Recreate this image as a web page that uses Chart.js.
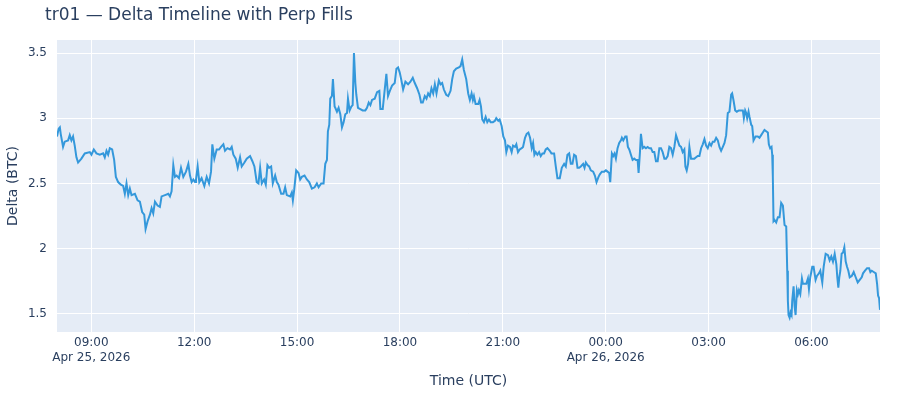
<!DOCTYPE html>
<html>
<head>
<meta charset="utf-8">
<script src="https://cdn.jsdelivr.net/npm/chart.js@4.4.1/dist/chart.umd.min.js"></script>
<style>
  body { margin: 0; background: #fff; }
  #wrap { position: relative; width: 900px; height: 400px; }
  #title {
    position: absolute; left: 45px; top: 3px;
    font: 17px "DejaVu Sans", Verdana, sans-serif; line-height: 22px; color: #2a3f5f;
  }
</style>
</head>
<body>
<div id="wrap">
  <canvas id="deltaChart" width="900" height="400"></canvas>
  <div id="title">tr01 — Delta Timeline with Perp Fills</div>
</div>
<script>
// minutes after 2026-04-25 08:00 UTC
const START = Date.UTC(2026, 3, 25, 8, 0);
const minutes = [
  0, 3, 5, 6.5, 10.6, 13.5, 19.4, 22.3, 25.2, 28.1, 31, 34, 36.9, 42.7, 48.6, 57.4, 60.3, 64.4, 69, 74.9,
  80.7, 83.6, 86.6, 89.5, 92.4, 96.5, 100, 103, 107, 111.7, 115.8, 118.7, 121.6, 124.6, 127.5, 130.4, 136.3, 141, 145, 149,
  152.6, 155, 158.5, 162.6, 165.5, 168.4, 171.4, 176, 180, 183, 189, 194.7, 197.6, 200.5, 203.5, 206.4, 209.3, 213.4, 217, 221,
  225.7, 229.8, 232.7, 235.6, 238.6, 241.5, 243.2, 246.1, 249, 253, 257.8, 261.9, 266, 269.5, 271.8, 275.3, 279.4, 283.5, 287, 291.1,
  294, 298.1, 302.8, 305.7, 308.6, 312.7, 316.2, 320.3, 323.2, 327.9, 332, 337.8, 341.9, 345.4, 349.5, 352.5, 355.4, 358.3, 362.4, 365.3,
  368.2, 371.2, 374.7, 377.6, 381.7, 384.6, 387.5, 392.2, 396.3, 399.2, 402.1, 408, 410.9, 412.7, 415, 418.5, 422.6, 425.5, 428.4, 433.1,
  437.2, 441.3, 446, 450.7, 454.7, 457.7, 462.3, 466.4, 469.4, 472.3, 474, 476.4, 478.1, 481, 482.8, 485.7, 486.9, 489.8, 492.7, 495.7,
  498.6, 501.5, 504.4, 507.4, 509.1, 512, 515, 517.3, 519.6, 522, 523.7, 526.6, 530.7, 534.8, 539.5, 542.4, 545.4, 548.3, 551.2, 555.9,
  560, 564, 565.8, 569.9, 573.4, 576.3, 579.2, 583.3, 586.3, 590.9, 593.9, 596.8, 599.7, 602.6, 605.6, 609.6, 614.3, 618.4, 622.5, 626,
  630.1, 634.2, 637.1, 640, 643.5, 646.5, 649.4, 652.3, 655.2, 658.2, 661.1, 664, 668.1, 671, 673.9, 676.9, 681, 684.5, 688.6, 691.5,
  694.4, 698.5, 703.2, 706.1, 709, 711.9, 716, 719.5, 722.4, 725.4, 727.7, 729.5, 732.4, 737.1, 739.4, 741.8, 744.1, 747, 750, 752.9,
  755.8, 758.7, 762.8, 766.3, 768.6, 772.1, 774.5, 778, 780.9, 783.8, 786.2, 789.1, 792.6, 795.5, 797.9, 801.4, 803.7, 806.6, 809.6, 813.1,
  815.4, 818.9, 821.8, 824.8, 827.7, 830.6, 833, 835.3, 837.6, 840.5, 843.5, 846.4, 849.3, 852.2, 855.1, 858.1, 862.2, 865.1, 869.8, 872.7,
  875.6, 879.7, 883.2, 887.3, 890.2, 893.1, 896.1, 899, 901.9, 904.8, 907.9, 910.7, 913.6, 916.5, 920.6, 923, 925.3, 928.2, 931.1, 934,
  938.1, 941.1, 944, 947.5, 949.8, 953.3, 957.4, 960.4, 963.3, 966.2, 968, 970.9, 973.2, 975.6, 977.9, 980.8, 983.7, 986.7, 988.4, 990.8,
  994.3, 996.6, 998.9, 1001.3, 1004.2, 1007.1, 1010, 1013, 1015.9, 1017.6, 1020, 1021.7, 1024.7, 1027.6, 1030.5, 1033.4, 1036.4, 1039.3, 1042.2, 1045.1,
  1048, 1051, 1053.9, 1056.8, 1059.7, 1062.7, 1065.6, 1068.5, 1071.4, 1074.3, 1077.3, 1080.2, 1083.1, 1086, 1089, 1091.9, 1094.8, 1097.7, 1099.5, 1101.8,
  1104.2, 1106.5, 1109.4, 1112.3, 1115.3, 1118.2, 1121.1, 1124, 1127, 1129.9, 1132.8, 1135.7, 1138.6, 1141.6, 1144.5, 1147.4, 1150.3, 1153.3, 1156.2, 1159.1,
  1162, 1165, 1167.9, 1170.8, 1173.7, 1176.6, 1179.6, 1181.3, 1183.6, 1186.6, 1189.5, 1193, 1197.1, 1200, 1201.8, 1204.1, 1205.9, 1207.6, 1210, 1211.7,
  1214.6, 1216.4, 1218.7, 1222.2, 1226.2, 1229.1, 1232.1, 1235, 1237.9, 1240.8, 1243.8, 1245.5, 1247.8, 1250.2, 1251.4, 1252.5, 1253.7, 1255.5, 1258.4, 1261.3,
  1264.2, 1267.1, 1270.1, 1273, 1275.9, 1277.7, 1278.8, 1280, 1281.8, 1283.5, 1285.3, 1286.4, 1288.8, 1290.5, 1292.3, 1294.6, 1296.4, 1298.1, 1300.5, 1303.4,
  1305.1, 1308.1, 1311, 1313.9, 1315.7, 1318, 1321.5, 1323.8, 1327.3, 1329.7, 1333.2, 1335.5, 1339, 1341.4, 1344.9, 1349, 1351.9, 1354.8, 1357.7, 1360.7,
  1363.6, 1365.3, 1367.1, 1368.8, 1370.6, 1372.9, 1375.3, 1377.6, 1380, 1382.3, 1384.6, 1387, 1390.5, 1394, 1397.5, 1401, 1404.5, 1408, 1410.3, 1413.8,
  1417.4, 1420.9, 1423.2, 1425.5, 1429, 1432.6, 1434.9, 1436.6, 1438.4, 1440
];
const deltaBtc = [
  2.86, 2.92, 2.93, 2.88, 2.78, 2.82, 2.83, 2.87, 2.83, 2.86, 2.79, 2.70, 2.66, 2.69, 2.73, 2.74, 2.72, 2.76, 2.73, 2.72,
  2.73, 2.70, 2.75, 2.72, 2.77, 2.76, 2.68, 2.55, 2.51, 2.49, 2.48, 2.42, 2.50, 2.41, 2.46, 2.41, 2.42, 2.37, 2.36, 2.28,
  2.26, 2.15, 2.21, 2.26, 2.31, 2.27, 2.36, 2.33, 2.32, 2.40, 2.41, 2.42, 2.40, 2.44, 2.64, 2.55, 2.56, 2.54, 2.62, 2.55,
  2.59, 2.65, 2.56, 2.51, 2.53, 2.51, 2.53, 2.63, 2.51, 2.54, 2.48, 2.55, 2.50, 2.59, 2.80, 2.69, 2.76, 2.76, 2.78, 2.80,
  2.75, 2.77, 2.76, 2.78, 2.72, 2.69, 2.62, 2.70, 2.63, 2.66, 2.69, 2.71, 2.67, 2.63, 2.51, 2.50, 2.62, 2.50, 2.53, 2.49,
  2.64, 2.62, 2.63, 2.50, 2.56, 2.51, 2.49, 2.42, 2.42, 2.47, 2.41, 2.40, 2.43, 2.37, 2.45, 2.60, 2.58, 2.53, 2.55, 2.56,
  2.53, 2.51, 2.46, 2.47, 2.50, 2.47, 2.50, 2.50, 2.65, 2.68, 2.90, 2.95, 3.15, 3.17, 3.30, 3.09, 3.08, 3.05, 3.08, 3.03,
  2.93, 2.97, 3.03, 3.04, 3.15, 3.06, 3.09, 3.10, 3.50, 3.27, 3.18, 3.08, 3.07, 3.06, 3.06, 3.08, 3.12, 3.10, 3.14, 3.15,
  3.20, 3.21, 3.07, 3.07, 3.22, 3.34, 3.17, 3.22, 3.25, 3.27, 3.38, 3.39, 3.35, 3.29, 3.22, 3.28, 3.26, 3.28, 3.31, 3.27,
  3.23, 3.18, 3.12, 3.12, 3.17, 3.15, 3.19, 3.17, 3.23, 3.19, 3.26, 3.19, 3.29, 3.26, 3.27, 3.22, 3.18, 3.17, 3.21, 3.30,
  3.36, 3.38, 3.39, 3.40, 3.45, 3.37, 3.30, 3.19, 3.14, 3.19, 3.14, 3.17, 3.11, 3.11, 3.14, 3.09, 2.99, 2.97, 3.01, 2.97,
  2.99, 2.97, 2.97, 2.98, 3.00, 2.98, 2.99, 2.94, 2.86, 2.83, 2.74, 2.79, 2.78, 2.74, 2.79, 2.78, 2.80, 2.74, 2.76, 2.77,
  2.78, 2.85, 2.88, 2.89, 2.85, 2.77, 2.81, 2.72, 2.74, 2.72, 2.74, 2.71, 2.73, 2.73, 2.76, 2.77, 2.75, 2.73, 2.73, 2.63,
  2.54, 2.54, 2.62, 2.65, 2.63, 2.72, 2.73, 2.65, 2.65, 2.72, 2.71, 2.62, 2.62, 2.63, 2.65, 2.62, 2.66, 2.64, 2.63, 2.60,
  2.59, 2.56, 2.51, 2.55, 2.57, 2.59, 2.59, 2.60, 2.59, 2.58, 2.51, 2.73, 2.71, 2.73, 2.69, 2.77, 2.81, 2.83, 2.85, 2.83,
  2.86, 2.86, 2.78, 2.76, 2.72, 2.68, 2.69, 2.68, 2.68, 2.58, 2.74, 2.88, 2.77, 2.78, 2.77, 2.78, 2.77, 2.77, 2.74, 2.74,
  2.67, 2.67, 2.77, 2.77, 2.74, 2.69, 2.69, 2.71, 2.78, 2.77, 2.72, 2.78, 2.87, 2.83, 2.79, 2.78, 2.74, 2.76, 2.63, 2.60,
  2.65, 2.78, 2.69, 2.69, 2.69, 2.70, 2.71, 2.71, 2.77, 2.80, 2.84, 2.79, 2.77, 2.81, 2.79, 2.82, 2.82, 2.85, 2.83, 2.78,
  2.75, 2.78, 2.81, 2.87, 3.04, 3.05, 3.18, 3.19, 3.14, 3.06, 3.05, 3.06, 3.06, 3.06, 3.00, 3.06, 3.04, 3.00, 3.05, 3.01,
  2.95, 2.94, 2.83, 2.86, 2.86, 2.85, 2.87, 2.89, 2.91, 2.90, 2.89, 2.80, 2.77, 2.78, 2.72, 2.55, 2.21, 2.22, 2.20, 2.24,
  2.24, 2.35, 2.33, 2.18, 2.17, 1.83, 1.60, 1.49, 1.47, 1.51, 1.49, 1.60, 1.71, 1.56, 1.49, 1.68, 1.65, 1.68, 1.65, 1.77,
  1.73, 1.73, 1.73, 1.77, 1.69, 1.78, 1.86, 1.86, 1.76, 1.79, 1.81, 1.83, 1.74, 1.86, 1.96, 1.95, 1.91, 1.94, 1.90, 1.96,
  1.88, 1.78, 1.70, 1.78, 1.83, 1.96, 1.97, 2.01, 1.90, 1.86, 1.83, 1.78, 1.79, 1.82, 1.78, 1.74, 1.76, 1.78, 1.81, 1.83,
  1.85, 1.85, 1.82, 1.83, 1.82, 1.81, 1.73, 1.64, 1.62, 1.53
];
const xTicks = [60, 240, 420, 600, 780, 960, 1140, 1320];
const yTicks = [1.5, 2, 2.5, 3, 3.5];

const MONTHS = ['Jan', 'Feb', 'Mar', 'Apr', 'May', 'Jun', 'Jul', 'Aug', 'Sep', 'Oct', 'Nov', 'Dec'];
function tickLabel(m, index) {
  const d = new Date(START + m * 60000);
  const hhmm = String(d.getUTCHours()).padStart(2, '0') + ':' + String(d.getUTCMinutes()).padStart(2, '0');
  if (index === 0 || hhmm === '00:00') {
    return [hhmm, MONTHS[d.getUTCMonth()] + ' ' + d.getUTCDate() + ', ' + d.getUTCFullYear()];
  }
  return hhmm;
}

const plotBg = {
  id: 'plotBg',
  beforeDraw(chart) {
    const a = chart.chartArea, ctx = chart.ctx;
    ctx.save();
    ctx.fillStyle = '#E5ECF6';
    ctx.fillRect(a.left, a.top, a.right - a.left, a.bottom - a.top);
    ctx.restore();
  }
};

const textColor = '#2a3f5f';
const family = '"DejaVu Sans", Verdana, sans-serif';

new Chart(document.getElementById('deltaChart'), {
  type: 'line',
  data: {
    datasets: [{
      label: 'Delta',
      data: minutes.map((m, i) => ({ x: m, y: deltaBtc[i] })),
      borderColor: '#3498db',
      borderWidth: 2,
      pointRadius: 0,
      tension: 0,
      fill: false
    }]
  },
  options: {
    responsive: false,
    animation: false,
    layout: { padding: { top: 40, right: 20, left: 0, bottom: 0 } },
    plugins: { legend: { display: false }, tooltip: { enabled: false } },
    scales: {
      x: {
        type: 'linear',
        min: 0,
        max: 1440,
        afterFit(scale) { scale.height = 68; },
        afterBuildTicks(scale) { scale.ticks = xTicks.map(v => ({ value: v })); },
        grid: { color: '#ffffff', lineWidth: 1, drawTicks: false },
        border: { display: false },
        ticks: {
          autoSkip: false,
          maxRotation: 0,
          padding: 3,
          color: textColor,
          font: { family: family, size: 12, lineHeight: 1.25 },
          callback: (v, i) => tickLabel(v, i)
        },
        title: {
          display: true,
          text: 'Time (UTC)',
          color: textColor,
          font: { family: family, size: 14 },
          padding: { top: 0, bottom: 10 }
        }
      },
      y: {
        min: 1.36,
        max: 3.6,
        afterFit(scale) { scale.width = 57; },
        afterBuildTicks(scale) { scale.ticks = yTicks.map(v => ({ value: v })); },
        grid: { color: '#ffffff', lineWidth: 1, drawTicks: false },
        border: { display: false },
        ticks: {
          padding: 10,
          color: textColor,
          font: { family: family, size: 12 },
          callback: v => String(v)
        },
        title: {
          display: true,
          text: 'Delta (BTC)',
          color: textColor,
          font: { family: family, size: 14 },
          padding: { top: 5, bottom: 0 }
        }
      }
    }
  },
  plugins: [plotBg]
});
</script>
</body>
</html>
